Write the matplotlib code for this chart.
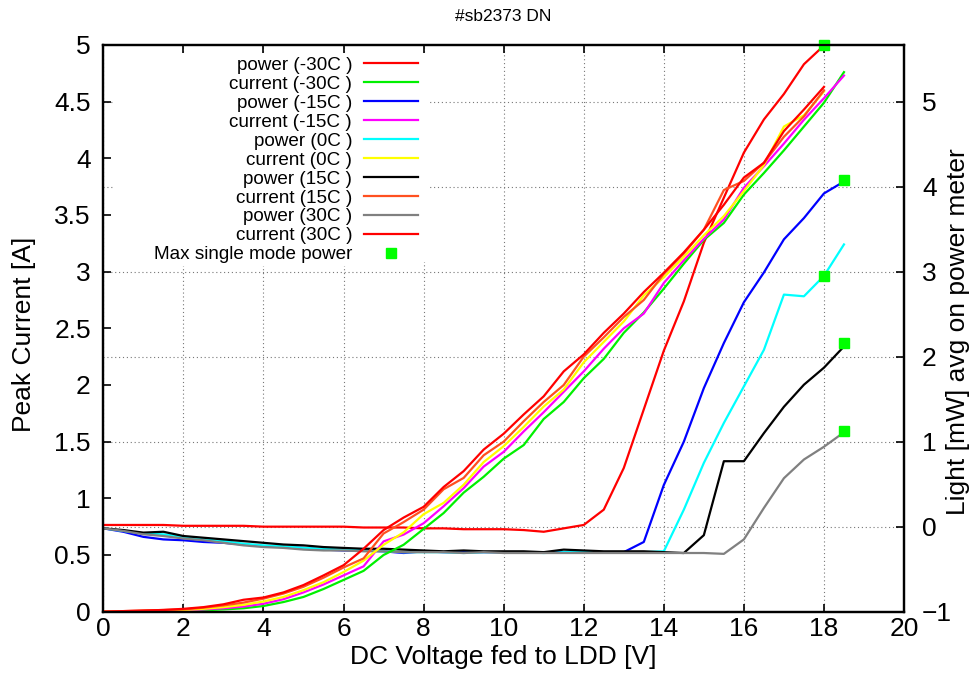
import matplotlib

matplotlib.use("Agg")
import matplotlib.pyplot as plt
from matplotlib.patches import Rectangle

plt.rcParams["font.family"] = ["Liberation Sans", "DejaVu Sans"]

# measurement grid, DC voltage fed to the LDD [V]
volts = [0, 0.5, 1, 1.5, 2, 2.5, 3, 3.5, 4, 4.5, 5, 5.5, 6, 6.5, 7, 7.5, 8, 8.5, 9,
         9.5, 10, 10.5, 11, 11.5, 12, 12.5, 13, 13.5, 14, 14.5, 15, 15.5, 16, 16.5,
         17, 17.5, 18, 18.5]

# light on power meter [mW]
power_m30 = [0.02, 0.02, 0.02, 0.02, 0.01, 0.01, 0.01, 0.01, 0.0, 0.0, 0.0, 0.0, 0.0,
             -0.01, -0.01, -0.01, -0.02, -0.02, -0.03, -0.03, -0.03, -0.04, -0.06, -0.02,
             0.02, 0.20, 0.69, 1.38, 2.07, 2.65, 3.34, 3.87, 4.40, 4.79, 5.09, 5.44, 5.66]
power_m15 = [-0.02, -0.06, -0.12, -0.15, -0.16, -0.18, -0.19, -0.21, -0.23, -0.24, -0.25,
             -0.27, -0.28, -0.28, -0.29, -0.31, -0.29, -0.30, -0.30, -0.30, -0.30, -0.30,
             -0.30, -0.30, -0.30, -0.30, -0.30, -0.18, 0.49, 1.00, 1.63, 2.16, 2.64, 2.99,
             3.38, 3.63, 3.92, 4.06]
power_0 = [-0.02, -0.05, -0.08, -0.09, -0.12, -0.15, -0.17, -0.20, -0.22, -0.23, -0.25,
           -0.26, -0.27, -0.28, -0.29, -0.30, -0.30, -0.30, -0.31, -0.30, -0.30, -0.30,
           -0.31, -0.30, -0.30, -0.30, -0.30, -0.30, -0.29, 0.20, 0.75, 1.22, 1.65, 2.08,
           2.73, 2.71, 2.95, 3.32]
power_15 = [-0.02, -0.04, -0.07, -0.06, -0.11, -0.13, -0.15, -0.17, -0.19, -0.21, -0.22,
            -0.24, -0.25, -0.26, -0.26, -0.27, -0.28, -0.29, -0.28, -0.29, -0.29, -0.29,
            -0.30, -0.27, -0.28, -0.29, -0.29, -0.29, -0.30, -0.31, -0.10, 0.77, 0.77, 1.10,
            1.41, 1.67, 1.87, 2.12]
power_30 = [-0.02, -0.05, -0.09, -0.11, -0.14, -0.16, -0.19, -0.22, -0.24, -0.25, -0.27,
            -0.28, -0.28, -0.29, -0.29, -0.30, -0.30, -0.30, -0.31, -0.30, -0.31, -0.31,
            -0.31, -0.31, -0.31, -0.31, -0.31, -0.31, -0.31, -0.31, -0.31, -0.32, -0.15,
            0.22, 0.57, 0.79, 0.94, 1.11]

# peak current [A]
current_m30 = [0, 0.002, 0.004, 0.006, 0.008, 0.012, 0.02, 0.03, 0.05, 0.085, 0.13, 0.20,
               0.28, 0.36, 0.50, 0.59, 0.73, 0.87, 1.05, 1.19, 1.35, 1.47, 1.70, 1.85, 2.06,
               2.23, 2.46, 2.64, 2.85, 3.07, 3.28, 3.43, 3.68, 3.87, 4.07, 4.28, 4.49, 4.76]
current_m15 = [0, 0.003, 0.005, 0.008, 0.012, 0.02, 0.03, 0.045, 0.07, 0.11, 0.17, 0.24,
               0.32, 0.40, 0.62, 0.68, 0.78, 0.93, 1.09, 1.28, 1.41, 1.59, 1.76, 1.94, 2.12,
               2.32, 2.50, 2.63, 2.90, 3.10, 3.29, 3.46, 3.74, 3.93, 4.13, 4.34, 4.53, 4.73]
current_0 = [0, 0.003, 0.006, 0.01, 0.015, 0.025, 0.04, 0.06, 0.09, 0.13, 0.19, 0.26, 0.35,
             0.45, 0.59, 0.70, 0.86, 0.96, 1.12, 1.32, 1.46, 1.63, 1.81, 1.96, 2.20, 2.38,
             2.56, 2.79, 2.95, 3.13, 3.32, 3.49, 3.71, 3.94, 4.28, 4.38, 4.59]
current_15 = [0, 0.005, 0.01, 0.015, 0.02, 0.035, 0.055, 0.08, 0.115, 0.16, 0.22, 0.30,
              0.39, 0.47, 0.69, 0.79, 0.90, 1.08, 1.18, 1.38, 1.50, 1.68, 1.85, 2.00, 2.25,
              2.42, 2.60, 2.75, 2.98, 3.16, 3.37, 3.72, 3.80, 3.96, 4.19, 4.37, 4.60]
current_30 = [0, 0.005, 0.01, 0.015, 0.025, 0.04, 0.065, 0.105, 0.125, 0.17, 0.235, 0.32,
              0.41, 0.555, 0.72, 0.83, 0.925, 1.10, 1.24, 1.43, 1.57, 1.74, 1.90, 2.12, 2.27,
              2.46, 2.63, 2.82, 2.99, 3.17, 3.37, 3.59, 3.83, 3.96, 4.24, 4.43, 4.63]

# max single mode power points
max_volts = [18, 18.5, 18, 18.5, 18.5]
max_power = [5.67, 4.08, 2.95, 2.16, 1.12]

series = [
    ("power", "-30C", power_m30, "#ff0000"),
    ("current", "-30C", current_m30, "#00f000"),
    ("power", "-15C", power_m15, "#0000ff"),
    ("current", "-15C", current_m15, "#ff00ff"),
    ("power", "0C", power_0, "#00ffff"),
    ("current", "0C", current_0, "#ffff00"),
    ("power", "15C", power_15, "#000000"),
    ("current", "15C", current_15, "#ff5020"),
    ("power", "30C", power_30, "#808080"),
    ("current", "30C", current_30, "#ff0000"),
]

fig = plt.figure(figsize=(9.75, 6.77), dpi=100)
ax_pw = fig.add_axes([0.106, 0.0965, 0.8212, 0.8371])
ax_cur = ax_pw.twinx()
ax_pw.yaxis.tick_right()
ax_pw.yaxis.set_label_position("right")
ax_cur.yaxis.tick_left()
ax_cur.yaxis.set_label_position("left")

handles = []
for kind, temp, values, color in series:
    target = ax_pw if kind == "power" else ax_cur
    (line,) = target.plot(volts[:len(values)], values, color=color, linewidth=1.6,
                          label=f"{kind} ({temp} )")
    handles.append(line)

(marks,) = ax_pw.plot(max_volts, max_power, linestyle="none", marker="s", markersize=7,
                      color="#00ff00", label="Max single mode power", clip_on=False,
                      zorder=5)
handles.append(marks)

ax_pw.set_xlim(0, 20)
ax_pw.set_xticks(range(0, 21, 2))
ax_pw.set_ylim(-1, 17 / 3)
ax_pw.set_yticks(range(-1, 6))
ax_cur.set_ylim(0, 5)
ax_cur.set_yticks([0, 0.5, 1, 1.5, 2, 2.5, 3, 3.5, 4, 4.5, 5])
ax_cur.set_yticklabels(["0", "0.5", "1", "1.5", "2", "2.5", "3", "3.5", "4", "4.5", "5"])

ax_pw.grid(True, linestyle=(0, (1, 2.5)), color="#777777", linewidth=0.8)

ax_pw.tick_params(axis="x", direction="in", top=True, length=6, width=1.2,
                  labelsize=19, pad=4)
ax_pw.tick_params(axis="y", direction="in", left=False, right=True, labelleft=False,
                  labelright=True, length=6, width=1.2, labelsize=19, pad=13)
ax_cur.tick_params(axis="y", direction="in", left=True, right=False, labelleft=True,
                   labelright=False, length=6, width=1.2, labelsize=19, pad=9)

for axis in (ax_pw, ax_cur):
    for spine in axis.spines.values():
        spine.set_linewidth(1.6)

ax_pw.set_xlabel("DC Voltage fed to LDD [V]", fontsize=19)
ax_pw.xaxis.set_label_coords(0.5, -0.08)
ax_pw.xaxis.label.set_va("center")
ax_pw.set_ylabel("Light [mW] avg on power meter", fontsize=19, rotation=90)
ax_pw.yaxis.set_label_coords(1.0674, 0.495)
ax_pw.yaxis.label.set_va("center")
ax_cur.set_ylabel("Peak Current [A]", fontsize=19)
ax_cur.yaxis.set_label_coords(-0.099, 0.49)
ax_cur.yaxis.label.set_va("center")

fig.text(0.516, 0.975, "#sb2373 DN", ha="center", va="center", fontsize=12.5)

# opaque key area (no border) hiding the grid behind the key
key_left, key_right, key_top, key_bottom = 113 / 975, 428.5 / 975, 1 - 53 / 677, 1 - 262 / 677
ax_cur.add_patch(Rectangle((key_left, key_bottom), key_right - key_left, key_top - key_bottom,
                           transform=fig.transFigure, facecolor="white", edgecolor="none",
                           zorder=1))

leg = ax_cur.legend(handles=handles, loc="upper right", bbox_to_anchor=(421 / 975, 1 - 54 / 677),
                    bbox_transform=fig.transFigure, borderaxespad=0, markerfirst=False,
                    fontsize=13.6, labelspacing=0.09, handlelength=2.85, handletextpad=0.65,
                    borderpad=0.15, frameon=True, fancybox=False, framealpha=1,
                    facecolor="white", edgecolor="none")
leg.set_zorder(10)

fig.savefig("out.png", dpi=100)
